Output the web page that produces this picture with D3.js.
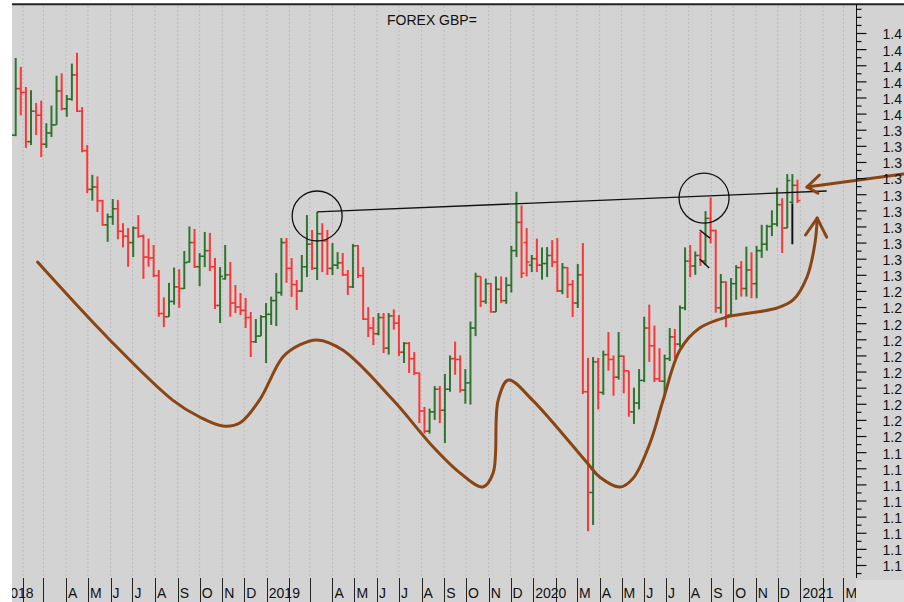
<!DOCTYPE html>
<meta charset="utf-8">
<style>
  body { margin: 0; background: #fff; }
  svg text { font-family: "Liberation Sans", Arial, sans-serif; }
</style>
<body>
<script src="https://cdn.jsdelivr.net/npm/d3@7"></script>
<script>

    var width = 904,
        height = 602;

    var plotLeft = 12,
        plotRight = 856,
        plotTop = 4,
        plotBottom = 580;

    var green = "#1d6a1d",
        red = "#ff2626",
        brown = "#8b4513";

    // weekly bars, [open, high, low, close], one row per week (Monday)
    var ohlc2018 = [
        [1.3510,1.3615,1.3460,1.3567],[1.3567,1.3745,1.3460,1.3713],[1.3713,1.3944,1.3700,1.3866],
        [1.3866,1.4345,1.3860,1.4155],[1.4155,1.4290,1.3990,1.4131],[1.4131,1.4165,1.3787,1.3826],
        [1.3826,1.4145,1.3805,1.4015],[1.4015,1.4066,1.3867,1.3990],[1.3990,1.4080,1.3730,1.3810],
        [1.3810,1.3940,1.3787,1.3880],[1.3880,1.4050,1.3855,1.3930],[1.3930,1.4235,1.3930,1.4140],
        [1.4140,1.4250,1.4020,1.4030],[1.4030,1.4115,1.3980,1.4090],[1.4090,1.4310,1.4080,1.4240],
        [1.4240,1.4377,1.4010,1.4015],[1.4015,1.4040,1.3760,1.3770],[1.3770,1.3805,1.3507,1.3530],
        [1.3530,1.3620,1.3460,1.3545],[1.3545,1.3610,1.3390,1.3460],[1.3460,1.3465,1.3305,1.3310],
        [1.3310,1.3380,1.3205,1.3360],[1.3360,1.3470,1.3310,1.3410],[1.3410,1.3465,1.3220,1.3270],
        [1.3270,1.3320,1.3170,1.3240],[1.3240,1.3290,1.3050,1.3200],[1.3200,1.3300,1.3110,1.3290],
        [1.3290,1.3370,1.3230,1.3240],[1.3240,1.3250,1.2975,1.3110],[1.3110,1.3225,1.3050,1.3105],
        [1.3105,1.3185,1.2985,1.2995],[1.2995,1.3030,1.2740,1.2760],[1.2760,1.2860,1.2676,1.2740],
        [1.2740,1.2950,1.2740,1.2835],[1.2835,1.3045,1.2815,1.2925],[1.2925,1.3035,1.2795,1.2915],
        [1.2915,1.3148,1.2912,1.3075],[1.3080,1.3300,1.3075,1.3200],[1.3200,1.3284,1.3042,1.3050],
        [1.3050,1.3135,1.2930,1.3115],[1.3115,1.3266,1.3048,1.3150],[1.3150,1.3260,1.3024,1.3050],
        [1.3050,1.3104,1.2788,1.2810],[1.2810,1.3048,1.2701,1.2990],[1.2975,1.3185,1.2970,1.3000],
        [1.3000,1.3080,1.2740,1.2825],[1.2825,1.2937,1.2763,1.2800],[1.2800,1.2887,1.2750,1.2780],
        [1.2780,1.2856,1.2670,1.2735],[1.2735,1.2769,1.2490,1.2585],[1.2585,1.2726,1.2577,1.2620],
        [1.2620,1.2750,1.2620,1.2740],[1.2740,1.2825,1.2453,1.2755]
    ];
    var ohlc2019 = [
        [1.2755,1.2865,1.2689,1.2840],[1.2840,1.3011,1.2682,1.2890],[1.2890,1.3228,1.2870,1.3200],
        [1.3200,1.3228,1.2950,1.3040],[1.3040,1.3104,1.2862,1.2940],[1.2940,1.2968,1.2782,1.2900],
        [1.2900,1.3123,1.2893,1.3050],[1.3050,1.3371,1.2986,1.3190],[1.3190,1.3278,1.3030,1.3040],
        [1.3040,1.3390,1.2968,1.3255],[1.3255,1.3320,1.3017,1.3210],[1.3210,1.3278,1.2999,1.3040],
        [1.3040,1.3197,1.2999,1.3060],[1.3060,1.3141,1.3036,1.3075],[1.3075,1.3135,1.2993,1.3000],
        [1.3000,1.3030,1.2875,1.2925],[1.2925,1.3191,1.2918,1.3180],[1.3180,1.3185,1.2980,1.2995],
        [1.2995,1.3048,1.2720,1.2725],[1.2725,1.2800,1.2614,1.2670],[1.2670,1.2738,1.2564,1.2635],
        [1.2635,1.2763,1.2625,1.2735],[1.2735,1.2763,1.2515,1.2545],[1.2545,1.2763,1.2505,1.2745],
        [1.2745,1.2785,1.2660,1.2700],[1.2700,1.2750,1.2496,1.2520],[1.2520,1.2583,1.2453,1.2575],
        [1.2575,1.2583,1.2391,1.2480],[1.2480,1.2521,1.2378,1.2390],[1.2390,1.2395,1.2080,1.2155],
        [1.2155,1.2180,1.2015,1.2030],[1.2030,1.2170,1.2015,1.2150],[1.2150,1.2310,1.2100,1.2290],
        [1.2290,1.2310,1.2080,1.2160],[1.2160,1.2385,1.1957,1.2290],[1.2290,1.2500,1.2275,1.2480],
        [1.2480,1.2585,1.2380,1.2475],[1.2475,1.2500,1.2270,1.2285],[1.2285,1.2415,1.2200,1.2330],
        [1.2330,1.2710,1.2195,1.2670],[1.2670,1.3013,1.2620,1.2990],[1.2990,1.2990,1.2800,1.2835],
        [1.2835,1.2977,1.2820,1.2945],[1.2945,1.2950,1.2765,1.2770],[1.2770,1.2990,1.2770,1.2910],
        [1.2910,1.2990,1.2825,1.2840],[1.2840,1.2985,1.2820,1.2935],[1.2935,1.3180,1.2890,1.3150],
        [1.3150,1.3515,1.3110,1.3325],[1.3325,1.3430,1.2980,1.3010],[1.3200,1.3290,1.2990,1.3080],
        [1.3060,1.3123,1.3017,1.3100]
    ];
    var ohlc2020 = [
        [1.3100,1.3225,1.3017,1.3060],[1.3060,1.3170,1.2970,1.3070],[1.3070,1.3172,1.2986,1.3120],
        [1.3120,1.3215,1.3048,1.3080],[1.3080,1.3228,1.2893,1.2900],[1.2900,1.3073,1.2880,1.3045],
        [1.3045,1.3048,1.2856,1.2940],[1.2940,1.2968,1.2738,1.2825],[1.2825,1.3067,1.2794,1.3000],
        [1.3000,1.3197,1.2260,1.2275],[1.2275,1.2485,1.1410,1.1650],[1.1650,1.2490,1.1448,1.2460],
        [1.2460,1.2485,1.2165,1.2270],[1.2270,1.2530,1.2255,1.2505],[1.2505,1.2645,1.2405,1.2475],
        [1.2475,1.2500,1.2250,1.2365],[1.2365,1.2645,1.2350,1.2495],[1.2495,1.2500,1.2265,1.2405],
        [1.2405,1.2405,1.2120,1.2150],[1.2150,1.2300,1.2075,1.2205],[1.2205,1.2415,1.2165,1.2345],
        [1.2345,1.2740,1.2335,1.2670],[1.2670,1.2815,1.2460,1.2560],[1.2560,1.2685,1.2335,1.2355],
        [1.2355,1.2545,1.2335,1.2340],[1.2340,1.2505,1.2250,1.2480],[1.2480,1.2670,1.2465,1.2615],
        [1.2615,1.2665,1.2480,1.2570],[1.2570,1.2810,1.2550,1.2795],[1.2795,1.3170,1.2780,1.3085],
        [1.3085,1.3185,1.2985,1.3055],[1.3055,1.3145,1.3000,1.3120],[1.3120,1.3265,1.3055,1.3085],
        [1.3085,1.3395,1.3060,1.3350],[1.3350,1.3480,1.3195,1.3275],[1.3275,1.3280,1.2765,1.2795],
        [1.2795,1.3005,1.2760,1.2955],[1.2955,1.2960,1.2675,1.2750],[1.2750,1.2980,1.2750,1.2945],
        [1.2945,1.3060,1.2845,1.3045],[1.3045,1.3085,1.2865,1.2915],[1.2915,1.3175,1.2865,1.3030],
        [1.3030,1.3140,1.2855,1.2945],[1.2945,1.3180,1.2855,1.3150],[1.3150,1.3310,1.3105,1.3190],
        [1.3190,1.3310,1.3150,1.3300],[1.3300,1.3400,1.3240,1.3315],[1.3315,1.3540,1.3300,1.3435],
        [1.3435,1.3475,1.3135,1.3290],[1.3290,1.3625,1.3290,1.3585],[1.3450,1.3625,1.3190,1.3555],
        [1.3555,1.3590,1.3445,1.3460]
    ];

    // month cells of the time axis, Jan 2018 .. Mar 2021
    var monthLabels = [
        "2018","","","A","M","J","J","A","S","O","N","D",
        "2019","","","A","M","J","J","A","S","O","N","D",
        "2020","","M","A","M","J","J","A","S","O","N","D",
        "2021","","M"
    ];

    var yMajorTicks = [1.12,1.13,1.14,1.15,1.16,1.17,1.18,1.19,1.20,1.21,1.22,1.23,1.24,1.25,1.26,
                       1.27,1.28,1.29,1.30,1.31,1.32,1.33,1.34,1.35,1.36,1.37,1.38,1.39,1.40,1.41,
                       1.42,1.43,1.44,1.45];

    // hand drawn marks, in [date, price]
    var trendLine = [["2019-03-11", 1.3390], ["2021-02-06", 1.3520]];
    var circleMarks = [["2019-03-11", 1.3365], ["2020-08-22", 1.3476]];
    var brownCurve = [
        ["2018-02-21",1.3079],["2018-05-31",1.2596],["2018-08-25",1.2223],["2018-10-01",1.2118],
        ["2018-11-02",1.2062],["2018-11-25",1.2081],["2018-12-22",1.2223],["2019-01-23",1.2490],
        ["2019-02-15",1.2565],["2019-03-11",1.2596],["2019-04-15",1.2533],["2019-06-23",1.2223],
        ["2019-08-17",1.1932],["2019-09-23",1.1770],["2019-10-24",1.1684],["2019-11-07",1.1770],
        ["2019-11-14",1.2223],["2019-11-28",1.2347],["2019-12-31",1.2223],["2020-03-15",1.1833],
        ["2020-04-01",1.1746],["2020-04-29",1.1684],["2020-05-17",1.1739],["2020-06-09",1.1957],
        ["2020-06-27",1.2223],["2020-07-20",1.2533],["2020-08-16",1.2670],["2020-09-22",1.2738],
        ["2020-10-24",1.2763],["2020-11-30",1.2794],["2020-12-22",1.2844],["2021-01-10",1.2986],
        ["2021-01-21",1.3197],["2021-01-24",1.3352]
    ];
    var curveHead = [["2021-01-08",1.3247],["2021-01-24",1.3352],["2021-02-06",1.3234]];
    var sideArrow = [["2021-05-22",1.3625],["2021-01-10",1.3545]];
    var sideHead = [["2021-01-27",1.3619],["2021-01-10",1.3545],["2021-01-25",1.3507]];
    var blackStrokes = [
        [["2020-08-16",1.3278],["2020-08-30",1.3228]],
        [["2020-08-16",1.3098],["2020-08-29",1.3042]],
        [["2020-12-21",1.3440],["2020-12-21",1.3190]]
    ];

    var parseDate = d3.utcParse("%Y-%m-%d");

    var x = d3.scaleUtc()
            .domain([new Date(Date.UTC(2018, 0, 1)), new Date(Date.UTC(2021, 0, 1))])
            .range([0.35, 800.4]);

    var y = d3.scaleLinear()
            .domain([1.12, 1.45])
            .range([565, 33]);

    var weeks = d3.utcMonday.range(new Date(Date.UTC(2018, 0, 1)), new Date(Date.UTC(2021, 0, 4)));
    var rows = ohlc2018.concat(ohlc2019, ohlc2020);
    var bars = weeks.map(function(d, i) {
        return {date: d, o: rows[i][0], h: rows[i][1], l: rows[i][2], c: rows[i][3]};
    });

    var months = d3.utcMonth.range(new Date(Date.UTC(2018, 0, 1)), new Date(Date.UTC(2021, 3, 1)));

    var svg = d3.select("body").append("svg")
            .attr("width", width)
            .attr("height", height);

    var defs = svg.append("defs");
    defs.append("clipPath").attr("id", "plot-clip")
        .append("rect").attr("x", plotLeft).attr("y", plotTop)
        .attr("width", plotRight - plotLeft).attr("height", plotBottom - plotTop);
    defs.append("clipPath").attr("id", "xaxis-clip")
        .append("rect").attr("x", plotLeft).attr("y", plotBottom - 4)
        .attr("width", plotRight - plotLeft).attr("height", height - plotBottom + 4);
    defs.append("clipPath").attr("id", "yaxis-clip")
        .append("rect").attr("x", plotRight).attr("y", 0)
        .attr("width", 902 - plotRight).attr("height", plotBottom);

    // background
    svg.append("rect")
        .attr("x", plotLeft).attr("y", plotTop)
        .attr("width", width - plotLeft).attr("height", height - plotTop)
        .attr("fill", "#d3d3d3");
    svg.append("rect")
        .attr("x", plotRight).attr("y", plotBottom)
        .attr("width", width - plotRight).attr("height", height - plotBottom)
        .attr("fill", "#dcdcdc");

    //月份网格线
    svg.append("g").attr("clip-path", "url(#plot-clip)")
        .selectAll("line").data(months).join("line")
        .attr("x1", function(d) { return x(d); })
        .attr("x2", function(d) { return x(d); })
        .attr("y1", plotTop + 2).attr("y2", plotBottom - 2)
        .attr("stroke", "#bcbcbc")
        .attr("stroke-dasharray", "2,2");

    // title
    svg.append("text")
        .attr("x", 387).attr("y", 25)
        .attr("font-size", 14)
        .attr("fill", "#111")
        .text("FOREX GBP=");

    // OHLC bars
    var barG = svg.append("g").attr("clip-path", "url(#plot-clip)");
    var bar = barG.selectAll("g").data(bars).join("g")
            .attr("stroke", function(d) { return d.c >= d.o ? green : red; })
            .attr("stroke-opacity", 0.9);
    bar.append("line")
        .attr("x1", function(d) { return x(d.date); })
        .attr("x2", function(d) { return x(d.date); })
        .attr("y1", function(d) { return y(d.h); })
        .attr("y2", function(d) { return y(d.l); })
        .attr("stroke-width", 2);
    bar.append("line")
        .attr("x1", function(d) { return x(d.date) - 3; })
        .attr("x2", function(d) { return x(d.date); })
        .attr("y1", function(d) { return y(d.o); })
        .attr("y2", function(d) { return y(d.o); })
        .attr("stroke-width", 1.5);
    bar.append("line")
        .attr("x1", function(d) { return x(d.date); })
        .attr("x2", function(d) { return x(d.date) + 3; })
        .attr("y1", function(d) { return y(d.c); })
        .attr("y2", function(d) { return y(d.c); })
        .attr("stroke-width", 1.5);

    function px(p) { return x(parseDate(p[0])); }
    function py(p) { return y(p[1]); }
    var straight = d3.line().x(px).y(py);

    // black drawings
    svg.append("path")
        .attr("d", straight(trendLine))
        .attr("fill", "none").attr("stroke", "#111").attr("stroke-width", 1.3);
    svg.selectAll("circle.mark").data(circleMarks).join("circle")
        .attr("class", "mark")
        .attr("cx", px).attr("cy", py).attr("r", 25)
        .attr("fill", "none").attr("stroke", "#111").attr("stroke-width", 1.3);
    svg.selectAll("path.stroke").data(blackStrokes).join("path")
        .attr("class", "stroke")
        .attr("d", straight)
        .attr("fill", "none").attr("stroke", "#111").attr("stroke-width", 1.5);

    // brown drawings
    var smooth = d3.line().x(px).y(py).curve(d3.curveCatmullRom.alpha(0.5));
    svg.append("path")
        .attr("d", smooth(brownCurve))
        .attr("fill", "none").attr("stroke", brown).attr("stroke-width", 3)
        .attr("stroke-linecap", "round");
    [curveHead, sideArrow, sideHead].forEach(function(pts) {
        svg.append("path")
            .attr("d", straight(pts))
            .attr("fill", "none").attr("stroke", brown).attr("stroke-width", 3)
            .attr("stroke-linecap", "round").attr("stroke-linejoin", "round");
    });

    // top rule
    svg.append("line")
        .attr("x1", plotLeft).attr("x2", width)
        .attr("y1", plotTop + 0.3).attr("y2", plotTop + 0.3)
        .attr("stroke", "#222").attr("stroke-width", 2);

    // price axis
    svg.append("line")
        .attr("x1", plotRight + 0.5).attr("x2", plotRight + 0.5)
        .attr("y1", plotTop).attr("y2", plotBottom - 2)
        .attr("stroke", "#111");

    var minorTicks = d3.range(1.115, 1.466, 0.005).filter(function(v) {
        return yMajorTicks.every(function(t) { return Math.abs(t - v) > 0.001; });
    });
    var minorAxis = svg.append("g")
        .attr("transform", "translate(" + (plotRight + 0.5) + ",0)")
        .call(d3.axisRight(y).tickValues(minorTicks).tickSize(5).tickFormat(""));
    minorAxis.select(".domain").remove();

    // the labels run past the window edge, as in the original
    var yAxisWrap = svg.append("g").attr("clip-path", "url(#yaxis-clip)");
    var yAxis = yAxisWrap.append("g")
        .attr("transform", "translate(" + (plotRight + 0.5) + ",0)")
        .call(d3.axisRight(y).tickValues(yMajorTicks).tickSize(10).tickPadding(16)
            .tickFormat(d3.format(".2f")));
    yAxis.select(".domain").remove();
    yAxis.attr("font-size", 14).attr("font-family", "Liberation Sans, Arial, sans-serif");
    yAxis.selectAll("text").attr("fill", "#111").attr("dy", "0.42em");
    svg.selectAll(".tick line").attr("stroke", "#111").attr("stroke-width", 1.2);

    // time axis cells
    var xAxis = svg.append("g").attr("clip-path", "url(#xaxis-clip)");
    xAxis.selectAll("line").data(months).join("line")
        .attr("x1", function(d) { return Math.round(x(d)) + 0.5; })
        .attr("x2", function(d) { return Math.round(x(d)) + 0.5; })
        .attr("y1", plotBottom - 2).attr("y2", height)
        .attr("stroke", "#222");
    xAxis.selectAll("text").data(months).join("text")
        .attr("x", function(d) { return x(d) + 2; })
        .attr("y", 598)
        .attr("font-size", 14)
        .attr("fill", "#111")
        .text(function(d, i) { return monthLabels[i]; });

</script>
